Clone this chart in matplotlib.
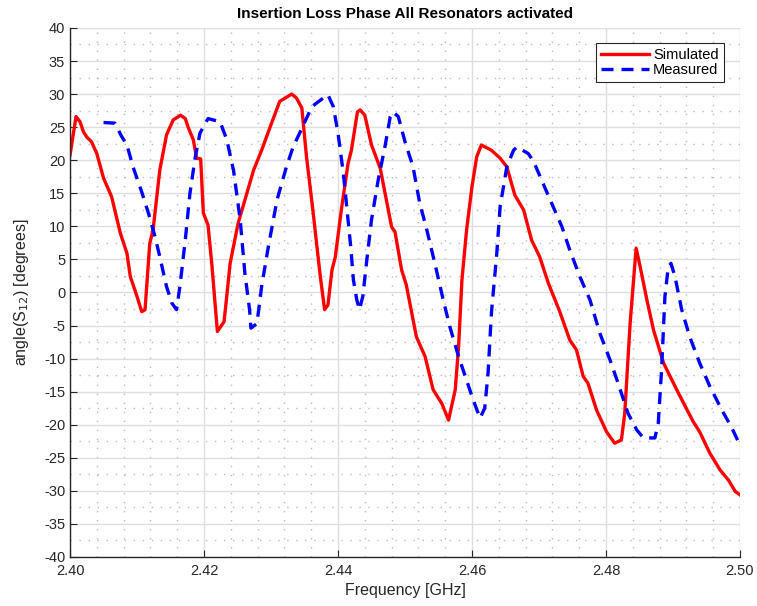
import numpy as np
import matplotlib
matplotlib.use("Agg")
from matplotlib import pyplot as plt
from matplotlib.ticker import MultipleLocator, FormatStrFormatter

plt.rcParams["font.family"] = ["Liberation Sans", "DejaVu Sans"]
plt.rcParams["axes.unicode_minus"] = False

# Simulated insertion loss phase (GHz, degrees)
sim_freq = [2.4000, 2.4009, 2.4015, 2.4020, 2.4025, 2.4032, 2.4040, 2.4050, 2.4062, 2.4075,
            2.4085, 2.4090, 2.4100, 2.4107, 2.4112, 2.4119, 2.4124, 2.4134, 2.4144, 2.4154,
            2.4165, 2.4172, 2.4177, 2.4184, 2.4189, 2.4195, 2.4199, 2.4206, 2.4212, 2.4216,
            2.4220, 2.4230, 2.4239, 2.4251, 2.4264, 2.4274, 2.4286, 2.4299, 2.4313, 2.4331,
            2.4338, 2.4346, 2.4353, 2.4363, 2.4373, 2.4380, 2.4385, 2.4391, 2.4396, 2.4405,
            2.4415, 2.4420, 2.4429, 2.4433, 2.4440, 2.4450, 2.4463, 2.4480, 2.4485, 2.4495,
            2.4502, 2.4517, 2.4530, 2.4542, 2.4555, 2.4565, 2.4575, 2.4580, 2.4585, 2.4592,
            2.4600, 2.4607, 2.4614, 2.4629, 2.4642, 2.4652, 2.4664, 2.4677, 2.4689, 2.4701,
            2.4714, 2.4731, 2.4746, 2.4756, 2.4766, 2.4773, 2.4786, 2.4801, 2.4813, 2.4823,
            2.4828, 2.4836, 2.4845, 2.4851, 2.4861, 2.4871, 2.4886, 2.4908, 2.4930, 2.4940,
            2.4955, 2.4970, 2.4983, 2.4993, 2.5000]
sim_phase = [20.8, 26.6, 25.8, 24.3, 23.5, 22.8, 21.0, 17.3, 14.5, 9.0,
             5.9, 2.4, -0.6, -2.9, -2.6, 7.4, 9.5, 18.5, 23.8, 26.1,
             26.8, 26.3, 24.8, 23.1, 20.3, 20.2, 12.0, 10.2, 3.9, -1.1,
             -5.9, -4.4, 4.4, 10.5, 15.0, 18.5, 21.5, 25.1, 28.9, 30.0,
             29.4, 27.9, 20.5, 12.0, 2.9, -2.6, -1.9, 3.4, 5.4, 12.5,
             19.5, 21.5, 27.3, 27.6, 26.8, 22.3, 18.8, 9.9, 9.2, 3.4,
             1.1, -6.7, -9.7, -14.7, -16.8, -19.3, -14.7, -8.2, 1.9, 9.5,
             16.0, 20.5, 22.3, 21.5, 20.3, 19.0, 14.7, 12.5, 7.9, 5.4,
             1.4, -2.9, -7.2, -8.7, -12.7, -13.7, -17.8, -21.1, -22.8, -22.3,
             -18.3, -4.7, 6.7, 3.9, -1.1, -5.7, -10.7, -15.2, -19.5, -21.1,
             -24.3, -26.8, -28.4, -30.1, -30.6]

# Measured insertion loss phase (GHz, degrees)
meas_freq = [2.4050, 2.4067, 2.4077, 2.4085, 2.4094, 2.4107, 2.4117, 2.4127, 2.4134, 2.4144,
             2.4152, 2.4159, 2.4164, 2.4172, 2.4179, 2.4187, 2.4194, 2.4206, 2.4224, 2.4234,
             2.4244, 2.4254, 2.4261, 2.4268, 2.4270, 2.4279, 2.4286, 2.4296, 2.4309, 2.4323,
             2.4333, 2.4346, 2.4361, 2.4378, 2.4385, 2.4393, 2.4400, 2.4408, 2.4413, 2.4419,
             2.4423, 2.4428, 2.4432, 2.4437, 2.4443, 2.4450, 2.4460, 2.4470, 2.4478, 2.4482,
             2.4490, 2.4500, 2.4512, 2.4522, 2.4532, 2.4545, 2.4557, 2.4567, 2.4580, 2.4590,
             2.4602, 2.4612, 2.4619, 2.4624, 2.4629, 2.4637, 2.4642, 2.4652, 2.4662, 2.4667,
             2.4684, 2.4692, 2.4706, 2.4721, 2.4734, 2.4746, 2.4761, 2.4776, 2.4791, 2.4806,
             2.4818, 2.4833, 2.4846, 2.4856, 2.4873, 2.4878, 2.4883, 2.4888, 2.4893, 2.4897,
             2.4903, 2.4913, 2.4925, 2.4940, 2.4955, 2.4973, 2.4988, 2.5000]
meas_phase = [25.7, 25.6, 23.6, 22.3, 19.0, 15.2, 12.0, 8.4, 5.4, 0.9,
              -1.6, -2.6, 0.9, 7.9, 15.0, 20.5, 24.1, 26.3, 25.8, 23.1,
              18.5, 11.0, 2.9, -2.6, -5.4, -4.7, 0.9, 6.9, 14.0, 19.0,
              22.0, 24.8, 28.1, 29.4, 29.9, 28.1, 24.1, 18.0, 13.0, 6.9,
              1.9, -1.1, -2.6, -0.6, 4.9, 11.0, 17.0, 22.0, 26.6, 27.3,
              26.6, 22.8, 19.0, 13.5, 9.7, 4.2, -1.1, -5.2, -9.7, -12.7,
              -16.3, -19.0, -17.5, -12.2, -3.1, 5.9, 13.0, 19.0, 21.5, 22.0,
              21.0, 19.8, 16.5, 13.0, 10.0, 6.4, 2.4, -1.1, -6.2, -10.2,
              -13.7, -18.3, -20.8, -22.0, -22.0, -19.8, -11.7, -0.6, 3.9, 4.4,
              2.4, -2.6, -6.7, -10.7, -14.2, -17.8, -20.5, -23.1]

fig = plt.figure(figsize=(7.57, 6.06), dpi=100)
ax = fig.add_axes([0.0925, 0.0809, 0.885, 0.873])

ax.plot(sim_freq, sim_phase, color="#ff0000", lw=2.4, label="Simulated")
ax.plot(meas_freq, meas_phase, color="#0000ff", lw=2.4, ls=(0, (3.6, 2.4)), label="Measured")

ax.set_xlim(2.40, 2.50)
ax.set_ylim(-40, 40)
ax.xaxis.set_major_locator(MultipleLocator(0.02))
ax.xaxis.set_minor_locator(MultipleLocator(0.004))
ax.yaxis.set_major_locator(MultipleLocator(5))
ax.yaxis.set_minor_locator(MultipleLocator(2.5))
ax.xaxis.set_major_formatter(FormatStrFormatter("%.2f"))

ax.grid(which="major", color="#dedede", lw=1.0, ls="-")
ax.grid(which="minor", color="#bcbcbc", lw=1.0, ls=(0, (1, 5.5)))
ax.set_axisbelow(True)

for side in ("top", "right"):
    ax.spines[side].set_visible(False)
for side in ("left", "bottom"):
    ax.spines[side].set_color("#262626")
    ax.spines[side].set_linewidth(1.0)

ax.tick_params(which="major", direction="in", length=5, width=0.8, labelsize=10.5,
               color="#262626", labelcolor="#262626")
ax.tick_params(which="minor", direction="in", length=0)
ax.tick_params(axis="x", pad=5)

ax.set_title("Insertion Loss Phase All Resonators activated", fontsize=11, fontweight="bold", pad=7)
ax.set_xlabel("Frequency [GHz]", fontsize=11.5, labelpad=4, color="#262626")
ax.set_ylabel("angle(S$_{12}$) [degrees]", fontsize=11.5, labelpad=9, color="#262626")

leg = ax.legend(loc="upper right", bbox_to_anchor=(0.976, 0.972), fontsize=10.5, frameon=True,
                fancybox=False, edgecolor="#262626", framealpha=1.0, handlelength=3.3,
                borderpad=0.35, labelspacing=0.1, handletextpad=0.3, borderaxespad=0.0)
leg.get_frame().set_linewidth(0.8)

fig.savefig("out.png", dpi=100)
